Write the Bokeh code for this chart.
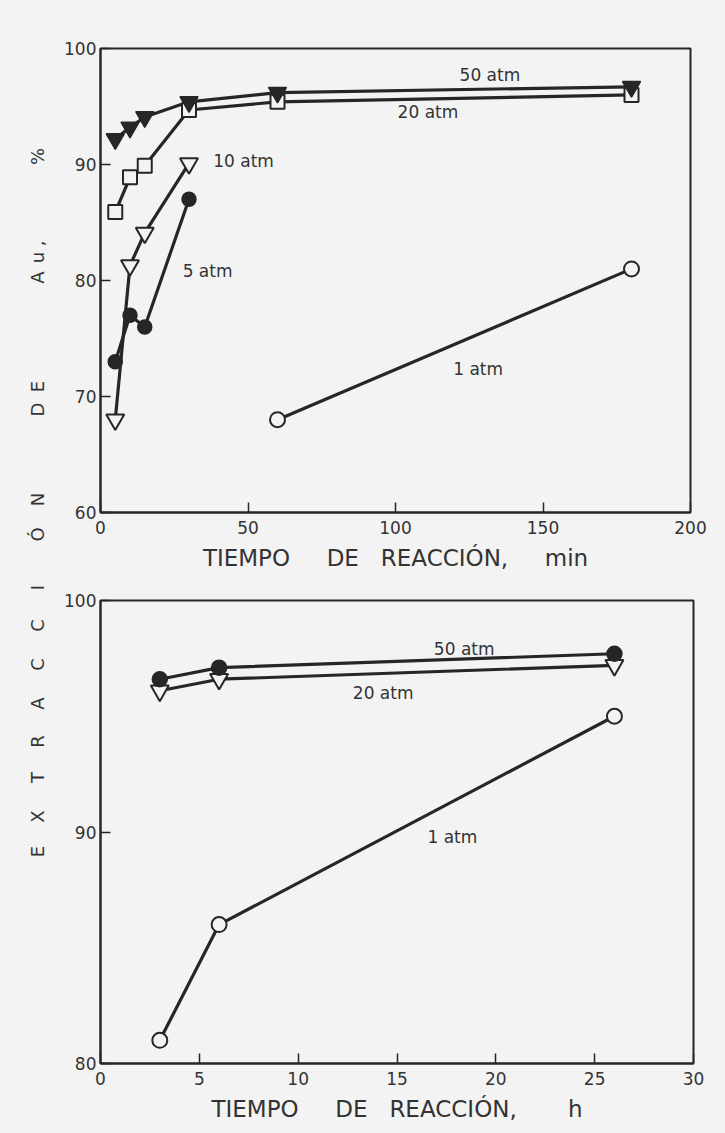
from bokeh.plotting import figure
from bokeh.layouts import row, column
from bokeh.models import Range1d, FixedTicker, Label, ColumnDataSource
from bokeh.core.properties import value
from bokeh.embed import file_html
from bokeh.resources import INLINE

# ---------------- data: upper panel (time in minutes) ----------------
t_min_50 = [5, 10, 15, 30, 60, 180]
au_min_50 = [92.2, 93.2, 94.1, 95.4, 96.2, 96.7]
t_min_20 = [5, 10, 15, 30, 60, 180]
au_min_20 = [85.9, 88.9, 89.9, 94.7, 95.4, 96.0]
t_min_10 = [5, 10, 15, 30]
au_min_10 = [68.0, 81.3, 84.1, 90.1]
t_min_5 = [5, 10, 15, 30]
au_min_5 = [73.0, 77.0, 76.0, 87.0]
t_min_1 = [60, 180]
au_min_1 = [68.0, 81.0]

# ---------------- data: lower panel (time in hours) ----------------
t_h = [3, 6, 26]
au_h_50 = [96.6, 97.1, 97.7]
au_h_20 = [96.1, 96.6, 97.2]
au_h_1 = [81.0, 86.0, 95.0]

x_ticks_min = [0, 50, 100, 150, 200]
y_ticks_min = [60, 70, 80, 90, 100]
x_ticks_h = [0, 5, 10, 15, 20, 25, 30]
y_ticks_h = [80, 90, 100]

NB = "\u00a0"
y_label_text = "EXTRACCIÓN DE Au, %"
x_label_min = "TIEMPO" + NB * 5 + "DE" + NB * 3 + "REACCIÓN," + NB * 5 + "min"
x_label_h = "TIEMPO" + NB * 5 + "DE" + NB * 3 + "REACCIÓN," + NB * 7 + "h"

# ---------------- styling ----------------
FONT = "DejaVu Sans"
INK = "#262626"
TXT = "#333333"
PAPER = "#f3f3f4"


def style(p, xt, yt):
    p.xaxis.ticker = FixedTicker(ticks=xt)
    p.yaxis.ticker = FixedTicker(ticks=yt)
    for ax in (p.xaxis[0], p.yaxis[0]):
        ax.axis_line_color = INK
        ax.axis_line_width = 2
        ax.major_tick_line_color = INK
        ax.major_tick_line_width = 1.5
        ax.major_tick_in = 10
        ax.major_tick_out = 0
        ax.minor_tick_line_color = None
        ax.major_label_text_font = FONT
        ax.major_label_text_font_size = "17px"
        ax.major_label_text_color = TXT
        ax.axis_label_text_font = FONT
        ax.axis_label_text_font_size = "23px"
        ax.axis_label_text_font_style = "normal"
        ax.axis_label_text_color = TXT
    p.xaxis.major_label_standoff = 8
    p.yaxis.major_label_standoff = 4
    p.xaxis.axis_label_standoff = 8
    p.grid.visible = False
    p.outline_line_color = INK
    p.outline_line_width = 2
    p.background_fill_color = PAPER
    p.border_fill_color = PAPER


def tag(p, x, y, text):
    p.add_layout(Label(x=x, y=y, text=text, text_align="center", text_baseline="middle",
                       text_font=FONT, text_font_size="17px", text_color=TXT))


# ---------------- upper panel ----------------
top = figure(frame_width=590, frame_height=464, x_range=Range1d(0, 200), y_range=Range1d(60, 100),
             output_backend="svg", toolbar_location=None,
             min_border_left=45, min_border_right=35, min_border_top=48, min_border_bottom=76)
top.xaxis.axis_label = x_label_min
style(top, x_ticks_min, y_ticks_min)

for xs, ys in ((t_min_1, au_min_1), (t_min_5, au_min_5), (t_min_10, au_min_10),
               (t_min_20, au_min_20), (t_min_50, au_min_50)):
    top.line(xs, ys, line_color=INK, line_width=3.2)

top.scatter(t_min_1, au_min_1, marker="circle", size=15, fill_color=PAPER, line_color=INK, line_width=2)
top.scatter(t_min_5, au_min_5, marker="circle", size=14, fill_color=INK, line_color=INK, line_width=1.5)
top.scatter(t_min_10, au_min_10, marker="inverted_triangle", size=18, fill_color=PAPER, line_color=INK, line_width=2)
top.scatter(t_min_20, au_min_20, marker="square", size=14, fill_color=PAPER, line_color=INK, line_width=2)
top.scatter(t_min_50, au_min_50, marker="inverted_triangle", size=18, fill_color=INK, line_color=INK, line_width=1.5)

tag(top, 132, 97.7, "50 atm")
tag(top, 111, 94.5, "20 atm")
tag(top, 48.5, 90.3, "10 atm")
tag(top, 36.3, 80.8, "5 atm")
tag(top, 128, 72.4, "1 atm")

# ---------------- lower panel ----------------
bot = figure(frame_width=593, frame_height=463, x_range=Range1d(0, 30), y_range=Range1d(80, 100),
             output_backend="svg", toolbar_location=None,
             min_border_left=45, min_border_right=32, min_border_top=12, min_border_bottom=70)
bot.xaxis.axis_label = x_label_h
style(bot, x_ticks_h, y_ticks_h)

for ys in (au_h_1, au_h_20, au_h_50):
    bot.line(t_h, ys, line_color=INK, line_width=3.2)

bot.scatter(t_h, au_h_1, marker="circle", size=15, fill_color=PAPER, line_color=INK, line_width=2)
bot.scatter(t_h, au_h_20, marker="inverted_triangle", size=18, fill_color=PAPER, line_color=INK, line_width=2)
bot.scatter(t_h, au_h_50, marker="circle", size=15, fill_color=INK, line_color=INK, line_width=1.5)

tag(bot, 18.4, 97.9, "50 atm")
tag(bot, 14.3, 96.0, "20 atm")
tag(bot, 17.8, 89.8, "1 atm")

# ---------------- shared vertical label (letter-spaced, reading upward) ----------------
TOTAL_H = 588 + 545
chars = [c for c in y_label_text if c != " "]
screen_y = [851, 816, 777, 741, 703, 664, 625, 587, 534, 499,   # EXTRACCIÓN
            409, 386,                                         # DE
            277, 257, 243,                                    # Au,
            156]                                              # %
lab = figure(width=55, height=TOTAL_H, x_range=Range1d(0, 55), y_range=Range1d(0, TOTAL_H),
             output_backend="svg", toolbar_location=None, min_border=0)
lab.axis.visible = False
lab.grid.visible = False
lab.outline_line_color = None
lab.background_fill_color = PAPER
lab.border_fill_color = PAPER
src = ColumnDataSource(dict(x=[37] * len(chars), y=[TOTAL_H - s for s in screen_y], t=chars))
lab.text(x="x", y="y", text="t", source=src, angle=1.5708, text_align="center",
         text_baseline="middle", text_font=value(FONT), text_font_size="18px", text_color=TXT)

inner = column(top, bot, styles={"background-color": PAPER})
layout = row(lab, inner, styles={"background-color": PAPER})
open("out.html", "w").write(file_html(layout, INLINE))
